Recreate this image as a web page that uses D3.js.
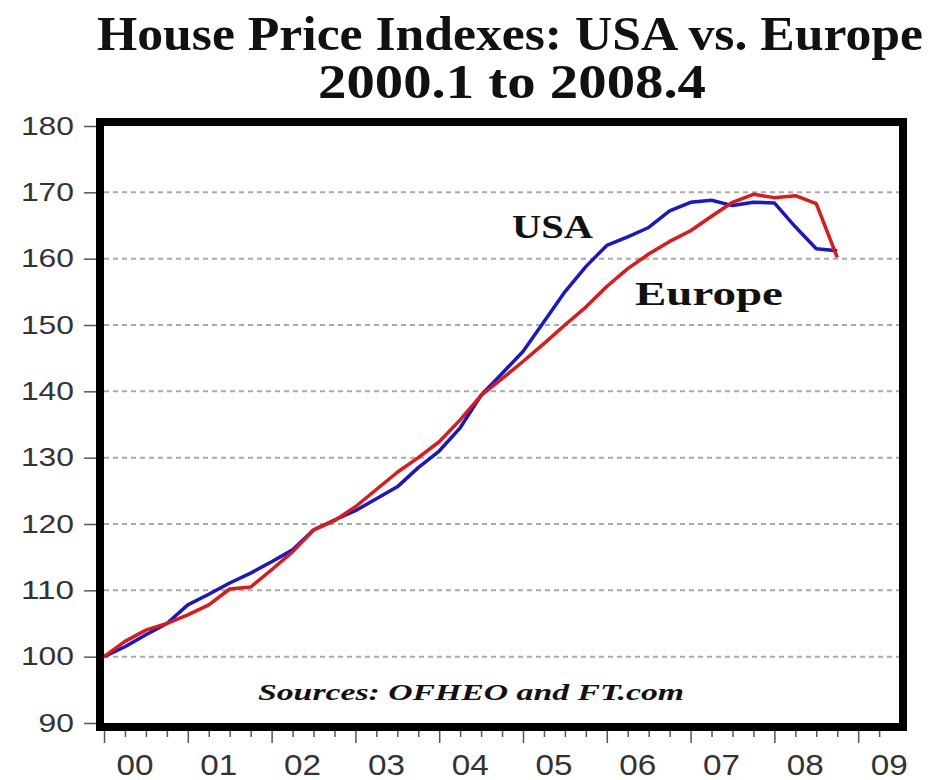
<!DOCTYPE html>
<html>
<head>
<meta charset="utf-8">
<script src="https://cdn.jsdelivr.net/npm/d3@7"></script>
<style>
  body { margin: 0; background: #fff; }
  svg { display: block; }
</style>
</head>
<body>
<svg id="chart" width="938" height="780"></svg>
<script>
// quarterly index, 2000.1 = 100
const quarters = d3.range(36).map(i => (2000 + Math.floor(i / 4)) + '.' + (i % 4 + 1))
const usa = [
  100.0, 101.5, 103.3, 105.0, 107.8, 109.4, 111.1, 112.6,
  114.3, 116.1, 119.1, 120.6, 122.0, 123.8, 125.6, 128.5,
  131.0, 134.5, 139.4, 142.7, 146.0, 150.5, 155.0, 158.8,
  162.0, 163.3, 164.7, 167.2, 168.5, 168.8, 168.0, 168.5,
  168.4, 164.8, 161.5, 161.2
]
const europe = [
  100.0, 102.3, 104.0, 105.0, 106.3, 107.8, 110.2, 110.5,
  113.1, 115.8, 119.1, 120.5, 122.6, 125.2, 127.8, 130.0,
  132.4, 135.7, 139.4, 141.9, 144.5, 147.2, 150.0, 152.7,
  155.8, 158.5, 160.7, 162.6, 164.2, 166.4, 168.5, 169.7,
  169.2, 169.5, 168.3, 160.2
]
const yearLabels = ['00', '01', '02', '03', '04', '05', '06', '07', '08', '09']
const yTicks = [90, 100, 110, 120, 130, 140, 150, 160, 170, 180]
const gridTicks = [100, 110, 120, 130, 140, 150, 160, 170]

const svg = d3.select('#chart')
const frame = { left: 100, top: 122, right: 903, bottom: 727 }

// quarter label "2003.2" -> 2003.25
const tq = q => { const p = q.split('.'); return +p[0] + (+p[1] - 1) / 4 }

const x = d3.scaleLinear().domain([1999.952, 2009.535]).range([frame.left, frame.right])
const y = d3.scaleLinear().domain([90, 180]).range([723, 126])

svg.append('rect').attr('width', 938).attr('height', 780).attr('fill', '#fff')

// title
const title = svg.append('g')
    .attr('font-family', '"Liberation Serif", "DejaVu Serif", serif')
    .attr('font-weight', 'bold')
    .attr('fill', '#111')
title.append('text')
    .attr('x', 97).attr('y', 50)
    .attr('font-size', 48)
    .attr('textLength', 826).attr('lengthAdjust', 'spacingAndGlyphs')
    .text('House Price Indexes: USA vs. Europe')
title.append('text')
    .attr('x', 318).attr('y', 98)
    .attr('font-size', 48)
    .attr('textLength', 388).attr('lengthAdjust', 'spacingAndGlyphs')
    .text('2000.1 to 2008.4')

// dashed grid
svg.append('g').selectAll('line').data(gridTicks).enter()
  .append('line')
    .attr('x1', frame.left + 4).attr('x2', frame.right - 4)
    .attr('y1', d => y(d)).attr('y2', d => y(d))
    .attr('stroke', '#aaa').attr('stroke-width', 2)
    .attr('stroke-dasharray', '5,4')

// y axis
const yAxis = svg.append('g')
    .attr('transform', 'translate(' + (frame.left - 4) + ',0)')
    .call(d3.axisLeft(y).tickValues(yTicks).tickSize(12).tickPadding(10))
yAxis.select('.domain').remove()
yAxis.selectAll('line').attr('stroke', '#555').attr('stroke-width', 1.5)
yAxis.selectAll('text')
    .attr('font-family', '"Liberation Sans", Arial, sans-serif')
    .attr('font-size', 25)
    .attr('fill', '#333')
    .attr('textLength', d => String(d).length * 17.7)
    .attr('lengthAdjust', 'spacingAndGlyphs')

// x axis: quarterly ticks, longer at year starts
const xTickVals = d3.range(0, 38).map(i => 2000 + i / 4).filter(v => v <= 2009.5)
const xAxis = svg.append('g')
    .attr('transform', 'translate(0,' + (frame.bottom + 4) + ')')
    .call(d3.axisBottom(x).tickValues(xTickVals).tickSize(6).tickFormat(''))
xAxis.select('.domain').remove()
xAxis.selectAll('.tick line')
    .attr('y2', d => Number.isInteger(d) ? 12 : 6)
    .attr('stroke', '#555').attr('stroke-width', 1.5)

svg.append('g').selectAll('text').data(yearLabels).enter()
  .append('text')
    .attr('x', (d, i) => x(2000 + i + 0.37))
    .attr('y', 775)
    .attr('text-anchor', 'middle')
    .attr('font-family', '"Liberation Sans", Arial, sans-serif')
    .attr('font-size', 30)
    .attr('fill', '#333')
    .attr('textLength', 37).attr('lengthAdjust', 'spacingAndGlyphs')
    .text(d => d)

// series
const line = d3.line()
    .x((d, i) => x(tq(quarters[i])))
    .y(d => y(d))
svg.append('path').datum(usa)
    .attr('d', line)
    .attr('fill', 'none').attr('stroke', '#1818c8').attr('stroke-width', 3.5)
    .attr('stroke-linejoin', 'round')
svg.append('path').datum(europe)
    .attr('d', line)
    .attr('fill', 'none').attr('stroke', '#e01818').attr('stroke-width', 3.5)
    .attr('stroke-linejoin', 'round')

// labels
const notes = svg.append('g')
    .attr('font-family', '"Liberation Serif", "DejaVu Serif", serif')
    .attr('font-weight', 'bold')
    .attr('fill', '#111')
notes.append('text')
    .attr('x', 512).attr('y', 238)
    .attr('font-size', 34)
    .attr('textLength', 81).attr('lengthAdjust', 'spacingAndGlyphs')
    .text('USA')
notes.append('text')
    .attr('x', 635).attr('y', 305)
    .attr('font-size', 34)
    .attr('textLength', 148).attr('lengthAdjust', 'spacingAndGlyphs')
    .text('Europe')
notes.append('text')
    .attr('x', 258).attr('y', 700)
    .attr('font-size', 24)
    .attr('font-style', 'italic')
    .attr('textLength', 426).attr('lengthAdjust', 'spacingAndGlyphs')
    .text('Sources: OFHEO and FT.com')

// heavy frame
svg.append('rect')
    .attr('x', frame.left).attr('y', frame.top)
    .attr('width', frame.right - frame.left).attr('height', frame.bottom - frame.top)
    .attr('fill', 'none').attr('stroke', '#000').attr('stroke-width', 8)
</script>
</body>
</html>
